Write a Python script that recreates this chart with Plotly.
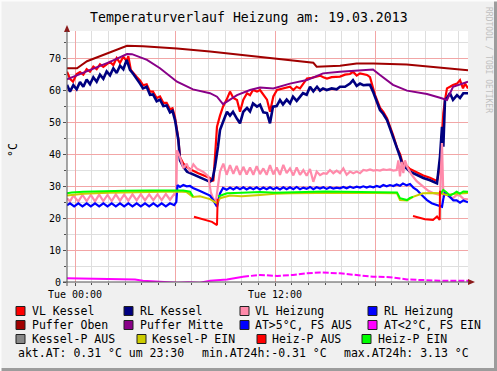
import plotly.graph_objects as go

# ---------------- data (time in hours relative to Tue 00:00, values in °C) ----------------
t_vl_kessel = [-0.48, -0.3, -0.12, 0.1, 0.3, 0.5, 0.7, 0.9, 1.1, 1.3, 1.5, 1.7, 2.1, 2.3, 2.5, 2.7, 2.9, 3.1, 3.2,
               3.35, 3.72, 3.9, 4.08, 4.3, 4.5, 4.68, 4.9, 5.1, 5.3, 5.5, 5.7, 5.85, 6.0, 6.12, 6.2, 6.3, 6.5, 6.72,
               7.0, 7.4, 7.8, 8.1, 8.3, 8.4, 8.52, 8.7, 8.88, 9.1, 9.3, 9.5, 9.72, 9.9, 10.1, 10.32, 10.5, 10.68,
               10.92, 11.1, 11.3, 11.52, 11.7, 11.9, 12.12, 12.5, 12.9, 13.1, 13.3, 13.5, 13.7, 13.92, 14.2, 14.5,
               14.7, 14.9, 15.12, 15.4, 15.9, 16.2, 16.5, 16.68, 16.9, 17.1, 17.52, 17.7, 17.88, 18.0, 18.3, 18.5,
               18.72, 18.9, 19.08, 19.32, 19.5, 19.68, 19.9, 20.1, 20.5, 20.9, 21.3, 21.72, 21.9, 21.95, 22.02, 22.1,
               22.2, 22.32, 22.5, 22.68, 22.92, 23.1, 23.28, 23.4, 23.58]
vl_kessel = [65.7, 63.5, 62.6, 65.0, 65.6, 64.8, 66.5, 65.7, 67.3, 66.5, 68.0, 67.2, 68.8, 67.8, 70.0, 68.5, 70.4, 69.0, 70.6,
             66.25, 64.0, 63.0, 61.5, 61.8, 59.5, 59.5, 57.5, 58.0, 56.0, 56.0, 54.0, 54.3, 51.5, 47.0, 44.8, 39.0, 37.0, 35.9,
             35.0, 34.0, 33.2, 32.5, 31.5, 38.0, 48.5, 52.0, 54.8, 57.0, 59.5, 57.5, 56.9, 53.2, 57.0, 59.0, 58.4, 60.0,
             59.5, 60.0, 58.5, 57.0, 53.2, 58.0, 60.0, 60.5, 61.0, 60.0, 61.0, 60.5, 62.0, 63.6, 63.8, 64.2,
             64.5, 64.0, 63.6, 64.0, 64.2, 64.8, 65.0, 65.7, 64.5, 65.2, 64.7, 64.0, 60.5, 58.5, 54.5, 53.2,
             51.2, 48.8, 46.0, 42.0, 40.0, 36.8, 36.3, 35.3, 34.3, 33.3, 32.6, 31.6, 36.0, 40.0, 45.0, 52.8,
             56.9, 60.5, 61.0, 61.6, 62.0, 63.1, 60.5, 62.0, 60.5]

t_rl_kessel = [-0.48, -0.3, -0.1, 0.1, 0.3, 0.5, 0.7, 0.9, 1.1, 1.3, 1.5, 1.7, 1.9, 2.1, 2.3, 2.5, 2.7, 2.9, 3.1, 3.3,
               3.5, 3.72, 3.9, 4.08, 4.3, 4.5, 4.68, 4.9, 5.1, 5.3, 5.5, 5.7, 5.85, 6.0, 6.12, 6.2, 6.3, 6.5, 6.72,
               7.0, 7.4, 7.8, 8.1, 8.25, 8.4, 8.58, 8.7, 8.88, 9.12, 9.3, 9.48, 9.72, 9.9, 10.1, 10.32, 10.5, 10.68,
               10.92, 11.1, 11.3, 11.52, 11.7, 11.88, 12.1, 12.3, 12.48, 12.7, 12.9, 13.08, 13.3, 13.5, 13.68, 13.9,
               14.1, 14.3, 14.52, 14.7, 14.88, 15.1, 15.4, 15.7, 15.9, 16.2, 16.5, 16.68, 16.9, 17.1, 17.3, 17.52,
               17.7, 17.88, 18.0, 18.3, 18.5, 18.72, 18.9, 19.08, 19.32, 19.5, 19.68, 19.9, 20.1, 20.5, 20.9, 21.3,
               21.72, 21.9, 22.02, 22.1, 22.2, 22.32, 22.5, 22.68, 22.92, 23.1, 23.3, 23.58]
rl_kessel = [61.6, 59.5, 61.5, 60.2, 62.5, 61.0, 63.3, 61.8, 64.0, 62.6, 64.8, 63.5, 65.8, 64.6, 66.8, 65.3, 67.6, 66.5, 69.4, 66.3,
             65.0, 63.1, 62.0, 60.5, 61.0, 58.5, 58.6, 56.5, 57.0, 55.0, 55.2, 53.0, 53.5, 50.6, 46.5, 44.4, 38.0, 36.0, 34.5,
             33.8, 32.8, 32.0, 31.3, 32.0, 36.0, 42.3, 47.5, 50.0, 53.2, 52.0, 53.2, 51.0, 49.6, 53.2, 54.4, 53.3, 55.8,
             54.8, 55.4, 53.0, 52.8, 49.6, 54.8, 55.0, 56.9, 55.5, 57.0, 55.8, 57.9, 56.6, 58.0, 59.0, 58.5,
             61.0, 59.6, 61.0, 59.8, 60.5, 60.0, 60.5, 60.2, 61.0, 61.0, 62.0, 63.1, 61.3, 62.0, 61.5, 61.6,
             61.6, 59.5, 57.9, 53.75, 52.5, 50.6, 48.0, 45.4, 41.25, 39.2, 36.0, 35.5, 34.5, 33.5, 32.5, 31.8,
             30.8, 39.2, 48.5, 42.3, 56.9, 57.5, 59.0, 56.9, 58.4, 57.5, 59.0, 59.0]

t_vl_heizung = [-0.48, -0.3, -0.1, 0.2, 0.45, 0.7, 0.95, 1.2, 1.45, 1.7, 1.95, 2.2, 2.45, 2.7, 2.95, 3.2, 3.45, 3.7, 3.95,
                4.2, 4.45, 4.7, 4.95, 5.2, 5.45, 5.7, 5.95, 6.08, 6.12, 6.3, 6.5, 6.7, 6.9, 7.1, 7.3, 7.7, 8.0, 8.15,
                8.3, 8.45, 8.58, 8.7, 8.9, 9.1, 9.3, 9.5, 9.7, 9.9, 10.1, 10.3, 10.5, 10.7, 10.9, 11.1, 11.3, 11.5,
                11.7, 11.9, 12.1, 12.3, 12.5, 12.7, 12.9, 13.1, 13.3, 13.5, 13.7, 13.9, 14.1, 14.3, 14.5, 14.7, 14.9,
                15.1, 15.3, 15.5, 15.7, 15.9, 16.1, 16.3, 16.5, 16.7, 16.9, 17.1, 17.3, 17.5, 17.7, 17.9, 18.1, 18.3,
                18.5, 18.7, 18.9, 19.1, 19.3, 19.4, 19.5, 19.6, 19.7, 19.8, 19.95, 20.2, 20.5, 20.88, 21.2, 21.48,
                21.9, 22.02, 22.1, 22.3, 22.5, 22.68, 22.9, 23.1, 23.3, 23.58]
vl_heizung = [26.2, 25.2, 27.0, 25.2, 27.2, 25.3, 27.2, 25.2, 27.3, 25.3, 27.2, 25.3, 27.4, 25.4, 27.3, 25.4, 27.4, 25.5, 27.4,
              25.5, 27.4, 25.6, 27.4, 25.6, 27.5, 25.7, 27.5, 27.0, 41.2, 39.0, 35.6, 37.0, 34.4, 36.8, 35.5, 34.4, 33.0, 28.0,
              26.0, 25.2, 30.0, 34.5, 37.0, 33.5, 36.5, 33.8, 36.3, 33.5, 36.0, 33.6, 35.8, 33.5, 36.2, 33.7, 35.5, 33.5,
              36.5, 33.6, 35.8, 33.5, 36.6, 34.0, 35.5, 33.3, 35.8, 33.5, 35.0, 33.2, 35.3, 31.3, 34.5, 33.4, 34.0,
              33.8, 35.0, 34.0, 34.8, 34.0, 35.5, 33.5, 34.5, 34.0, 34.5, 34.0, 35.0, 34.8, 35.2, 34.8, 35.0, 34.8,
              35.2, 35.0, 35.2, 34.8, 35.0, 38.0, 33.0, 37.5, 34.0, 38.0, 35.8, 33.5, 31.5, 29.8, 28.5, 27.8,
              27.2, 43.4, 27.0, 27.5, 26.5, 26.2, 27.2, 27.0, 26.0, 25.8]

t_rl_heizung = [-0.48, -0.3, -0.05, 0.2, 0.45, 0.7, 0.95, 1.2, 1.45, 1.7, 1.95, 2.2, 2.45, 2.7, 2.95, 3.2, 3.45, 3.7, 3.95,
                4.2, 4.45, 4.7, 4.95, 5.2, 5.45, 5.7, 5.95, 6.08, 6.15, 6.3, 6.5, 6.7, 6.9, 7.08, 7.5, 7.8, 8.1, 8.3,
                8.52, 8.7, 8.88, 9.1, 9.3, 9.5, 9.7, 9.9, 10.1, 10.3, 10.5, 10.7, 10.9, 11.1, 11.3, 11.5, 11.7, 11.9,
                12.1, 12.3, 12.5, 12.7, 12.9, 13.1, 13.3, 13.5, 13.7, 13.9, 14.1, 14.3, 14.5, 14.7, 14.9, 15.1, 15.3,
                15.5, 15.7, 15.9, 16.1, 16.3, 16.5, 16.7, 16.9, 17.1, 17.3, 17.5, 17.7, 17.9, 18.1, 18.3, 18.5, 18.7,
                18.9, 19.1, 19.3, 19.5, 19.68, 19.9, 20.1, 20.3, 20.52, 20.8, 21.12, 21.4, 21.72, 21.95, 22.02, 22.1,
                22.2, 22.35, 22.5, 22.7, 22.9, 23.1, 23.3, 23.58]
rl_heizung = [24.0, 24.6, 23.6, 24.6, 23.6, 24.6, 23.6, 24.6, 23.6, 24.6, 23.6, 24.6, 23.6, 24.6, 23.6, 24.6, 23.6, 24.6, 23.6,
              24.6, 23.6, 24.6, 23.6, 24.6, 23.6, 24.6, 24.0, 25.0, 30.3, 29.7, 30.3, 29.9, 30.0, 29.4, 28.4, 27.7, 27.0, 25.5,
              23.5, 27.7, 29.4, 28.8, 29.5, 28.9, 29.6, 29.0, 29.6, 28.9, 29.5, 29.0, 29.6, 28.9, 29.5, 29.0, 29.6, 29.0,
              29.5, 28.9, 29.6, 29.0, 29.6, 29.0, 29.7, 29.0, 29.5, 29.1, 29.7, 29.0, 29.6, 29.2, 29.6, 29.1, 29.6,
              29.2, 29.5, 29.3, 29.7, 29.3, 29.8, 29.4, 29.8, 29.5, 29.9, 29.5, 29.9, 29.6, 30.0, 29.7, 30.3, 29.9,
              30.3, 30.0, 30.5, 30.1, 30.8, 30.2, 30.6, 29.5, 28.75, 27.2, 25.6, 24.6, 24.0, 23.5, 23.5, 26.0,
              28.2, 27.2, 26.6, 25.5, 25.5, 24.8, 25.5, 24.9]

t_puffer_oben = [-0.48, 0.12, 0.72, 1.68, 2.4, 3.12, 4.08, 6.12, 8.1, 9.9, 11.9, 14.3, 14.5, 15.9, 16.9, 17.9, 19.9, 21.9, 23.58]
puffer_oben = [66.8, 66.8, 69.0, 70.9, 72.5, 73.8, 73.7, 73.0, 72.0, 71.0, 69.9, 68.5, 67.3, 67.6, 68.3, 68.3, 68.0, 67.1, 66.2]

t_puffer_mitte = [-0.48, 1.08, 2.1, 3.12, 3.42, 4.32, 5.1, 6.12, 7.08, 8.1, 8.52, 8.88, 9.72, 10.5, 11.1, 11.9, 12.9,
                  13.92, 14.88, 15.9, 16.92, 17.88, 18.3, 19.08, 19.92, 21.12, 21.9, 22.32, 22.68, 23.58]
puffer_mitte = [63.3, 66.5, 68.8, 71.25, 71.2, 69.4, 66.8, 62.6, 60.2, 59.0, 57.9, 55.6, 58.4, 60.0, 60.8, 60.5, 62.0,
                63.1, 65.2, 65.7, 66.0, 66.4, 64.7, 61.6, 59.8, 58.75, 57.6, 56.9, 61.0, 62.6]

t_aussen = [-0.48, 0.5, 1.1, 2.0, 3.12, 3.6, 4.08, 5.1, 6.12, 6.8, 7.5, 8.1, 9.12, 10.08, 11.1, 12.12, 13.08, 13.92,
            14.7, 15.9, 16.92, 17.88, 18.9, 19.92, 21.9, 23.58]
aussen = [1.15, 1.1, 1.05, 1.0, 1.05, 0.8, 0.4, 0.1, -0.2, -0.1, -0.2, 0.4, 0.8, 1.66, 2.2, 1.9, 2.2, 2.7,
          3.0, 2.7, 2.2, 1.66, 1.5, 0.8, 0.4, 0.4]

t_kessel_p_ein = [-0.48, 0.5, 2.0, 4.0, 6.12, 6.7, 7.08, 7.5, 8.1, 8.52, 8.7, 9.3, 10.0, 11.1, 12.0, 13.0, 14.0, 16.0,
                  18.0, 19.32, 19.5, 19.92, 20.28, 20.88, 21.5, 21.9, 22.32, 22.8, 23.58]
kessel_p_ein = [27.0, 27.6, 27.9, 28.1, 28.3, 28.1, 26.6, 26.8, 25.9, 24.6, 26.2, 27.0, 26.8, 27.2, 27.6, 27.7, 27.8, 27.9,
                27.8, 27.7, 25.6, 25.5, 26.6, 27.7, 27.8, 27.7, 27.2, 27.6, 27.8]

t_heiz_p_ein = [-0.48, -0.2, 0.5, 1.5, 3.0, 4.5, 6.12, 6.5, 6.9, 7.08, 7.1, 8.58, 8.8, 9.12, 10.0, 11.1, 12.0, 13.0, 14.0,
                15.0, 16.0, 17.0, 18.0, 19.0, 19.32, 19.5, 19.7, 19.92, 20.1, 20.28, 20.3, 21.95, 22.1, 22.3, 22.5,
                22.68, 22.9, 23.1, 23.3, 23.58]
heiz_p_ein = [27.7, 28.0, 28.2, 28.4, 28.5, 28.6, 28.75, 28.6, 28.2, 26.7, None, 26.7, 27.2, 27.7, 27.9, 28.1, 27.9, 28.1, 28.2,
              28.3, 28.2, 28.2, 28.1, 28.0, 28.0, 26.2, 26.0, 25.6, 26.3, 26.6, None, 27.7, 28.75, 28.0, 27.0,
              27.5, 28.2, 27.6, 28.3, 28.2]

t_heiz_p_aus = [7.14, 7.5, 8.0, 8.22, 8.52, 8.56, 8.6, 20.28, 20.6, 21.0, 21.48, 21.72, 21.88, 21.9]
heiz_p_aus = [20.4, 19.8, 19.0, 18.8, 17.8, 26.0, None, 20.6, 20.2, 19.6, 19.4, 20.5, 19.4, 28.5]

x_tick_vals = [0, 6, 12, 18]
x_tick_text = ["Tue 00:00", "", "Tue 12:00", ""]
y_tick_vals = [0, 10, 20, 30, 40, 50, 60, 70]

legend_names = ["VL Kessel", "RL Kessel", "VL Heizung", "RL Heizung",
                "Puffer Oben", "Puffer Mitte", "AT>5°C, FS AUS", "AT<2°C, FS EIN",
                "Kessel-P AUS", "Kessel-P EIN", "Heiz-P AUS", "Heiz-P EIN"]
legend_colors = ["#FF0000", "#000080", "#FF8AAA", "#0000FF",
                 "#A00000", "#880088", "#0000FF", "#FF00FF",
                 "#888888", "#CCCC00", "#FF0000", "#00FF00"]
stats_texts = ["akt.AT: 0.31 °C um 23:30", "min.AT24h:-0.31 °C", "max.AT24h: 3.13 °C"]
title_text = "Temperaturverlauf Heizung am: 19.03.2013"

# ---------------- layout helpers ----------------
W, H = 497, 371
PL, PR, PT, PB = 67, 468, 31, 282
X0, X1 = -0.48, 23.58
Y0, Y1 = 0, (PB - PT) / 3.2
MONO = "DejaVu Sans Mono"


def px(x):
    return (x - PL) / (PR - PL)


def py(y):
    return (PB - y) / (PB - PT)


fig = go.Figure()

series = [
    (t_vl_kessel, vl_kessel, "#FF0000", 2.2),
    (t_rl_kessel, rl_kessel, "#000080", 2.6),
    (t_vl_heizung, vl_heizung, "#FF8AAA", 2.2),
    (t_rl_heizung, rl_heizung, "#0000FF", 2.2),
    (t_puffer_oben, puffer_oben, "#A00000", 2.0),
    (t_puffer_mitte, puffer_mitte, "#880088", 2.0),
]
for t, v, c, w in series:
    fig.add_trace(go.Scatter(x=t, y=v, mode="lines", line=dict(color=c, width=w),
                             connectgaps=False, hoverinfo="skip", showlegend=False))

# outside temperature: solid in the first part, dashed later
split = 13
fig.add_trace(go.Scatter(x=t_aussen[:split + 1], y=aussen[:split + 1], mode="lines",
                         line=dict(color="#FF00FF", width=2), hoverinfo="skip", showlegend=False))
fig.add_trace(go.Scatter(x=t_aussen[split:], y=aussen[split:], mode="lines",
                         line=dict(color="#FF00FF", width=2, dash="6px,2px"), hoverinfo="skip", showlegend=False))

for t, v, c, w in [(t_kessel_p_ein, kessel_p_ein, "#CCCC00", 2.0),
                   (t_heiz_p_ein, heiz_p_ein, "#00FF00", 2.0),
                   (t_heiz_p_aus, heiz_p_aus, "#FF0000", 2.0)]:
    fig.add_trace(go.Scatter(x=t, y=v, mode="lines", line=dict(color=c, width=w),
                             connectgaps=False, hoverinfo="skip", showlegend=False))

shapes = []
annotations = []

# legend squares and texts
sq_x = [[16, 124, 240, 368], [16, 124, 240, 368], [16, 137, 257, 362]]
tx_x = [[30, 138, 253, 382], [30, 138, 253, 382], [30, 150, 270, 376]]
row_y = [311, 325, 339]
for i, (name, col) in enumerate(zip(legend_names, legend_colors)):
    r, c = divmod(i, 4)
    x0 = sq_x[r][c]
    yc = row_y[r]
    shapes.append(dict(type="rect", xref="paper", yref="paper",
                       x0=px(x0), x1=px(x0 + 9), y0=py(yc + 4.5), y1=py(yc - 4.5),
                       fillcolor=col, line=dict(color="#202020", width=1)))
    annotations.append(dict(xref="paper", yref="paper", x=px(tx_x[r][c]), y=py(yc),
                            xanchor="left", yanchor="middle", text=name, showarrow=False,
                            font=dict(family=MONO, size=11.5, color="#000000")))

for txt, xx in zip(stats_texts, [16, 200, 342]):
    annotations.append(dict(xref="paper", yref="paper", x=px(xx), y=py(353),
                            xanchor="left", yanchor="middle", text=txt, showarrow=False,
                            font=dict(family=MONO, size=11.5, color="#000000")))

# title, y-axis title, watermark
annotations.append(dict(xref="paper", yref="paper", x=px(249), y=py(17), xanchor="center", yanchor="middle",
                        text=title_text, showarrow=False, font=dict(family=MONO, size=13.2, color="#000000")))
annotations.append(dict(xref="paper", yref="paper", x=px(13), y=py(150), xanchor="center", yanchor="middle",
                        text="°C", textangle=-90, showarrow=False,
                        font=dict(family=MONO, size=11.5, color="#000000")))
annotations.append(dict(xref="paper", yref="paper", x=px(489), y=py(60), xanchor="center", yanchor="middle",
                        text="RRDTOOL / TOBI OETIKER", textangle=90, showarrow=False,
                        font=dict(family=MONO, size=8, color="#C0C0C0")))

# axis arrows and axis lines
shapes.append(dict(type="path", xref="paper", yref="paper",
                   path=f"M {px(64)} {py(32)} L {px(70)} {py(32)} L {px(67)} {py(25)} Z",
                   fillcolor="#8B1A1A", line=dict(color="#8B1A1A", width=0)))
shapes.append(dict(type="path", xref="paper", yref="paper",
                   path=f"M {px(468)} {py(279)} L {px(468)} {py(285)} L {px(475)} {py(282)} Z",
                   fillcolor="#8B1A1A", line=dict(color="#8B1A1A", width=0)))
shapes.append(dict(type="line", xref="paper", yref="paper", x0=px(67), x1=px(67), y0=py(286), y1=py(31),
                   line=dict(color="#505050", width=1)))
shapes.append(dict(type="line", xref="paper", yref="paper", x0=px(63), x1=px(469), y0=py(282), y1=py(282),
                   line=dict(color="#505050", width=1)))

# image frame (3D border)
shapes.append(dict(type="line", xref="paper", yref="paper", x0=px(0), x1=px(497), y0=py(369.5), y1=py(369.5),
                   line=dict(color="#9C9C9C", width=3)))
shapes.append(dict(type="line", xref="paper", yref="paper", x0=px(495.5), x1=px(495.5), y0=py(0), y1=py(371),
                   line=dict(color="#9C9C9C", width=3)))
shapes.append(dict(type="line", xref="paper", yref="paper", x0=px(0), x1=px(497), y0=py(0.5), y1=py(0.5),
                   line=dict(color="#FCFCFC", width=2)))
shapes.append(dict(type="line", xref="paper", yref="paper", x0=px(0.5), x1=px(0.5), y0=py(0), y1=py(371),
                   line=dict(color="#FCFCFC", width=2)))

fig.update_layout(
    width=W, height=H, autosize=False,
    margin=dict(l=PL, r=W - PR, t=PT, b=H - PB, pad=0),
    paper_bgcolor="#F0F0F0", plot_bgcolor="#FFFFFF",
    showlegend=False,
    font=dict(family=MONO, size=10, color="#000000"),
    shapes=shapes, annotations=annotations,
    xaxis=dict(range=[X0, X1], tickmode="array", tickvals=x_tick_vals, ticktext=x_tick_text,
               showgrid=True, gridcolor="#F2A6A6", gridwidth=1, zeroline=False,
               ticks="outside", ticklen=3, tickcolor="#505050", showline=False,
               tickfont=dict(family=MONO, size=10, color="#000000"),
               minor=dict(tickmode="linear", tick0=0, dtick=1, showgrid=True, gridcolor="#DEDEDE",
                          gridwidth=1, ticks="outside", ticklen=2, tickcolor="#505050")),
    yaxis=dict(range=[Y0, Y1], tickmode="array", tickvals=y_tick_vals,
               showgrid=True, gridcolor="#F2A6A6", gridwidth=1, zeroline=False,
               ticks="outside", ticklen=3, tickcolor="#505050", showline=False,
               tickfont=dict(family=MONO, size=10, color="#000000"),
               minor=dict(tickmode="linear", tick0=0, dtick=5, showgrid=True, gridcolor="#DEDEDE",
                          gridwidth=1, ticks="outside", ticklen=2, tickcolor="#505050")),
)

fig.write_html("out.html", config={"displayModeBar": False},
               post_script="document.body.style.margin='0';document.body.style.padding='0';")
